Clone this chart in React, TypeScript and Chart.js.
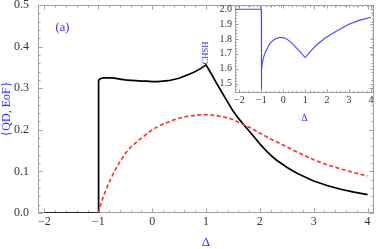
import React, { useEffect, useRef } from 'react';
import { Chart, registerables } from 'chart.js';

Chart.register(...registerables);

// ---- Data ----
const qdDelta = [-2, -1, -1, -0.99, -0.97, -0.94, -0.9, -0.8, -0.7, -0.6, -0.5, -0.4, -0.3, -0.2, -0.1, 0, 0.1, 0.2, 0.3, 0.4, 0.5, 0.6, 0.7, 0.8, 0.9, 1.0, 1.1, 1.2, 1.3, 1.4, 1.5, 1.6, 1.7, 1.8, 1.9, 2.0, 2.1, 2.2, 2.3, 2.4, 2.5, 2.6, 2.7, 2.8, 2.9, 3.0, 3.25, 3.5, 3.75, 4.0];
const qdValue = [0, 0, 0.315, 0.319, 0.322, 0.324, 0.325, 0.325, 0.324, 0.322, 0.320, 0.319, 0.318, 0.317, 0.317, 0.316, 0.316, 0.317, 0.318, 0.321, 0.324, 0.329, 0.334, 0.340, 0.347, 0.356, 0.334, 0.311, 0.289, 0.267, 0.246, 0.228, 0.212, 0.197, 0.182, 0.166, 0.152, 0.139, 0.128, 0.119, 0.110, 0.102, 0.095, 0.089, 0.083, 0.077, 0.066, 0.057, 0.050, 0.044];

const eofDelta = [-1, -0.97, -0.93, -0.88, -0.81, -0.75, -0.69, -0.6, -0.5, -0.4, -0.25, -0.1, 0, 0.15, 0.3, 0.45, 0.6, 0.75, 0.9, 1.05, 1.2, 1.35, 1.5, 1.69, 1.85, 2.0, 2.2, 2.44, 2.7, 3.0, 3.25, 3.5, 3.75, 4.0];
const eofValue = [0, 0.014, 0.031, 0.048, 0.071, 0.087, 0.103, 0.123, 0.143, 0.158, 0.175, 0.19, 0.2, 0.211, 0.219, 0.226, 0.231, 0.234, 0.236, 0.236, 0.234, 0.23, 0.225, 0.213, 0.203, 0.192, 0.178, 0.163, 0.146, 0.128, 0.116, 0.106, 0.097, 0.089];

const chshDelta = [-2.2, -1, -1, -0.98, -0.95, -0.9, -0.83, -0.7, -0.6, -0.4, -0.15, 0.1, 0.31, 0.5, 0.61, 0.8, 0.95, 1.0, 1.2, 1.53, 1.9, 2.28, 2.7, 3.04, 3.5, 4.0];
const chshValue = [2.0, 2.0, 1.461, 1.59, 1.64, 1.675, 1.705, 1.745, 1.772, 1.798, 1.811, 1.805, 1.784, 1.757, 1.739, 1.71, 1.682, 1.675, 1.71, 1.761, 1.805, 1.84, 1.875, 1.903, 1.927, 1.947];

const mainXTicks = [-2, -1, 0, 1, 2, 3, 4];
const mainYTicks = [0, 0.1, 0.2, 0.3, 0.4, 0.5];
const insetXTicks = [-2, -1, 0, 1, 2, 3, 4];
const insetYTicks = [1.5, 1.6, 1.7, 1.8, 1.9, 2.0];

const SERIF = '"Liberation Serif", "DejaVu Serif", serif';
const FRAME = '#a0a0a0';
const TICKTXT = '#333333';
const BLUE = '#2f2fff';

const pts = (xs: number[], ys: number[]) => xs.map((x, i) => ({ x, y: ys[i] }));
const fmtX = (v: number) => (v < 0 ? '\u2212' + Math.abs(v) : String(v));

type FrameCfg = {
  id: string;
  xMajor: number[];
  yMajor: number[];
  xMinorStep: number;
  yMinorStep: number;
  majorLen: number;
  minorLen: number;
  fontSize: number;
  xLabelGap: number;
  yLabelGap: number;
  yDecimals: number;
  titles: (ctx: CanvasRenderingContext2D, a: any) => void;
};

function framePlugin(cfg: FrameCfg) {
  const minors = (min: number, max: number, step: number) => {
    const out: number[] = [];
    for (let k = Math.ceil(min / step - 1e-9); k <= Math.floor(max / step + 1e-9); k++) out.push(k * step);
    return out;
  };
  return {
    id: cfg.id,
    beforeDatasetsDraw(chart: any) {
      const { ctx, chartArea: a, scales } = chart;
      const xs = scales.x;
      const ys = scales.y;
      ctx.save();
      ctx.strokeStyle = FRAME;
      ctx.lineWidth = 1;
      const L = Math.round(a.left) + 0.5;
      const R = Math.round(a.right) - 0.5;
      const T = Math.round(a.top) + 0.5;
      const B = Math.round(a.bottom) - 0.5;
      ctx.strokeRect(L, T, R - L, B - T);
      ctx.beginPath();
      const xTick = (v: number, len: number) => {
        const p = Math.round(xs.getPixelForValue(v)) + 0.5;
        ctx.moveTo(p, B); ctx.lineTo(p, B - len);
        ctx.moveTo(p, T); ctx.lineTo(p, T + len);
      };
      const yTick = (v: number, len: number) => {
        const p = Math.round(ys.getPixelForValue(v)) + 0.5;
        ctx.moveTo(L, p); ctx.lineTo(L + len, p);
        ctx.moveTo(R, p); ctx.lineTo(R - len, p);
      };
      minors(xs.min, xs.max, cfg.xMinorStep).forEach((v) => xTick(v, cfg.minorLen));
      minors(ys.min, ys.max, cfg.yMinorStep).forEach((v) => yTick(v, cfg.minorLen));
      cfg.xMajor.forEach((v) => xTick(v, cfg.majorLen));
      cfg.yMajor.forEach((v) => yTick(v, cfg.majorLen));
      ctx.stroke();
      ctx.restore();
    },
    afterDraw(chart: any) {
      const { ctx, chartArea: a, scales } = chart;
      const xs = scales.x;
      const ys = scales.y;
      ctx.save();
      ctx.fillStyle = TICKTXT;
      ctx.font = `${cfg.fontSize}px ${SERIF}`;
      ctx.textAlign = 'center';
      ctx.textBaseline = 'middle';
      cfg.xMajor.forEach((v) => {
        ctx.fillText(fmtX(v), xs.getPixelForValue(v), a.bottom + cfg.xLabelGap);
      });
      ctx.textAlign = 'right';
      cfg.yMajor.forEach((v) => {
        ctx.fillText(v.toFixed(cfg.yDecimals), a.left - cfg.yLabelGap, ys.getPixelForValue(v));
      });
      cfg.titles(ctx, a);
      ctx.restore();
    },
  };
}

function drawRotated(ctx: CanvasRenderingContext2D, text: string, x: number, y: number, font: string) {
  ctx.save();
  ctx.translate(x, y);
  ctx.rotate(-Math.PI / 2);
  ctx.font = font;
  ctx.fillStyle = BLUE;
  ctx.textAlign = 'center';
  ctx.textBaseline = 'middle';
  ctx.fillText(text, 0, 0);
  ctx.restore();
}

export default function App() {
  const mainRef = useRef<HTMLCanvasElement>(null);
  const insetRef = useRef<HTMLCanvasElement>(null);

  useEffect(() => {
    const common = {
      responsive: false,
      animation: false as const,
      devicePixelRatio: 1,
      events: [] as any[],
      plugins: { legend: { display: false }, tooltip: { enabled: false } },
      elements: { point: { radius: 0 } },
    };

    const mainChart = new Chart(mainRef.current!, {
      type: 'line',
      data: {
        datasets: [
          {
            label: 'EoF',
            data: pts(eofDelta, eofValue),
            borderColor: '#ff2a2a',
            borderWidth: 1.6,
            borderDash: [4, 2.5],
            pointRadius: 0,
            tension: 0,
          },
          {
            label: 'QD',
            data: pts(qdDelta, qdValue),
            borderColor: '#000000',
            borderWidth: 1.7,
            pointRadius: 0,
            tension: 0,
          },
        ],
      },
      options: {
        ...common,
        layout: { padding: { left: 38, right: 2, top: 5, bottom: 36 } },
        scales: {
          x: { type: 'linear', display: false, min: -2.12, max: 4.12 },
          y: { type: 'linear', display: false, min: 0, max: 0.5 },
        },
      },
      plugins: [
        framePlugin({
          id: 'mainFrame',
          xMajor: mainXTicks,
          yMajor: mainYTicks,
          xMinorStep: 0.2,
          yMinorStep: 0.02,
          majorLen: 4,
          minorLen: 2,
          fontSize: 12,
          xLabelGap: 9,
          yLabelGap: 9,
          yDecimals: 1,
          titles: (ctx, a) => {
            ctx.fillStyle = BLUE;
            ctx.textAlign = 'center';
            ctx.textBaseline = 'middle';
            ctx.font = `13px ${SERIF}`;
            ctx.fillText('\u0394', (a.left + a.right) / 2, 243);
            ctx.font = `12.5px ${SERIF}`;
            ctx.fillText('(a)', a.left + 24.5, a.top + 22.5);
            drawRotated(ctx, '{QD, EoF}', 6.5, (a.top + a.bottom) / 2, `12px ${SERIF}`);
          },
        }) as any,
      ],
    });

    const insetChart = new Chart(insetRef.current!, {
      type: 'line',
      data: {
        datasets: [
          {
            label: 'CHSH',
            data: pts(chshDelta, chshValue),
            borderColor: '#4646ff',
            borderWidth: 1.1,
            pointRadius: 0,
            tension: 0,
          },
        ],
      },
      options: {
        ...common,
        layout: { padding: { left: 235, right: 2, top: 5, bottom: 156 } },
        scales: {
          x: { type: 'linear', display: false, min: -2.2, max: 4.14 },
          y: { type: 'linear', display: false, min: 1.436, max: 2.029 },
        },
      },
      plugins: [
        framePlugin({
          id: 'insetFrame',
          xMajor: insetXTicks,
          yMajor: insetYTicks,
          xMinorStep: 0.2,
          yMinorStep: 0.02,
          majorLen: 3,
          minorLen: 1.5,
          fontSize: 10,
          xLabelGap: 7,
          yLabelGap: 3,
          yDecimals: 1,
          titles: (ctx, a) => {
            ctx.fillStyle = BLUE;
            ctx.textAlign = 'center';
            ctx.textBaseline = 'middle';
            ctx.font = `10px ${SERIF}`;
            ctx.fillText('\u0394', (a.left + a.right) / 2, 118);
            drawRotated(ctx, 'CHSH', 205.5, 53, `8.5px ${SERIF}`);
          },
        }) as any,
      ],
    });

    return () => {
      mainChart.destroy();
      insetChart.destroy();
    };
  }, []);

  return (
    <div style={{ position: 'fixed', left: 0, top: 0, width: 376, height: 249, background: '#ffffff' }}>
      <canvas ref={mainRef} width={376} height={249} style={{ position: 'absolute', left: 0, top: 0 }} />
      <canvas ref={insetRef} width={376} height={249} style={{ position: 'absolute', left: 0, top: 0 }} />
    </div>
  );
}
